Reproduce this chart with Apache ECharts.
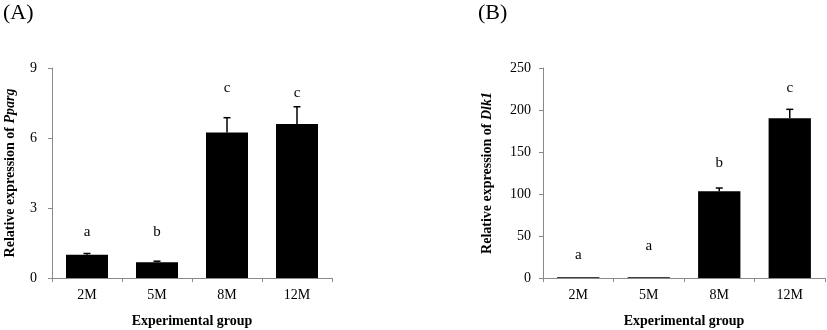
<!DOCTYPE html>
<html>
<head>
<meta charset="utf-8">
<script src="https://cdn.jsdelivr.net/npm/echarts@6/dist/echarts.min.js"></script>
<style>html,body{margin:0;padding:0;background:#fff}#c{width:827px;height:330px}</style>
</head>
<body>
<div id="c"></div>
<script>
const categories = ['2M', '5M', '8M', '12M'];
const ppargValues = [1.0, 0.67, 6.24, 6.6];
const ppargErrors = [0.05, 0.05, 0.63, 0.74];
const ppargLetters = ['a', 'b', 'c', 'c'];
const ppargLetterLevels = [1.97, 1.95, 8.14, 7.93];
const dlk1Values = [1.0, 1.0, 103.2, 190.1];
const dlk1Errors = [0, 0, 3.9, 10.7];
const dlk1Letters = ['a', 'a', 'b', 'c'];
const dlk1LetterLevels = [27.7, 38, 137, 226];
const ppargTicks = [0, 3, 6, 9];
const dlk1Ticks = [0, 50, 100, 150, 200, 250];

const FONT = '"Liberation Serif", "Times New Roman", serif';
const AXIS = '#8a8a8a';

function errRender(params, api) {
  const x = api.value(0), v = api.value(1), e = api.value(2);
  if (!e) return null;
  const p0 = api.coord([x, v]);
  const p1 = api.coord([x, v + e]);
  const style = { stroke: '#000', lineWidth: 1.5 };
  return {
    type: 'group',
    children: [
      { type: 'line', shape: { x1: p0[0], y1: p0[1], x2: p1[0], y2: p1[1] }, style },
      { type: 'line', shape: { x1: p1[0] - 3.5, y1: p1[1], x2: p1[0] + 3.5, y2: p1[1] }, style }
    ]
  };
}
function letterRender(params, api) {
  const p = api.coord([api.value(0), api.value(1)]);
  return {
    type: 'text',
    style: {
      text: api.value(2), x: p[0], y: p[1],
      align: 'center', verticalAlign: 'middle',
      font: '15px ' + FONT, fill: '#000'
    }
  };
}

function xAxis(gi) {
  return {
    type: 'category', gridIndex: gi, data: categories,
    axisLine: { lineStyle: { color: AXIS, width: 1 } },
    axisTick: { show: true, length: 4, lineStyle: { color: AXIS } },
    axisLabel: { color: '#000', fontFamily: FONT, fontSize: 14, margin: 10 },
    name: 'Experimental group', nameLocation: 'middle', nameGap: 36,
    nameTextStyle: { color: '#000', fontFamily: FONT, fontSize: 14, fontWeight: 'bold' }
  };
}
function yAxis(gi, ticks, gene, gap, margin) {
  return {
    type: 'value', gridIndex: gi,
    min: ticks[0], max: ticks[ticks.length - 1], interval: ticks[1] - ticks[0],
    splitLine: { show: false },
    axisLine: { show: true, lineStyle: { color: AXIS, width: 1 } },
    axisTick: { show: true, length: 4, lineStyle: { color: AXIS } },
    axisLabel: { color: '#000', fontFamily: FONT, fontSize: 14, margin: margin },
    name: 'Relative expression of {i|' + gene + '}', nameLocation: 'middle', nameRotate: 90, nameGap: gap,
    nameTextStyle: {
      color: '#000', fontFamily: FONT, fontSize: 14, fontWeight: 'bold',
      rich: { i: { fontFamily: FONT, fontSize: 14, fontWeight: 'bold', fontStyle: 'italic', color: '#000' } }
    }
  };
}

const chart = echarts.init(document.getElementById('c'));
chart.setOption({
  animation: false,
  title: [
    { text: '(A)', left: -2, top: -3, textStyle: { fontFamily: FONT, fontSize: 22, fontWeight: 'normal', color: '#000' } },
    { text: '(B)', left: 473, top: -3, textStyle: { fontFamily: FONT, fontSize: 22, fontWeight: 'normal', color: '#000' } }
  ],
  grid: [
    { left: 52, right: 495, top: 68, bottom: 52, containLabel: false, outerBoundsMode: 'none' },
    { left: 543, right: 2, top: 68, bottom: 52, containLabel: false, outerBoundsMode: 'none' }
  ],
  xAxis: [xAxis(0), xAxis(1)],
  yAxis: [yAxis(0, ppargTicks, 'Pparg', 35, 15), yAxis(1, dlk1Ticks, 'Dlk1', 49, 12)],
  series: [
    { type: 'bar', xAxisIndex: 0, yAxisIndex: 0, data: ppargValues, barWidth: '60%', itemStyle: { color: '#000' } },
    { type: 'custom', xAxisIndex: 0, yAxisIndex: 0, renderItem: errRender,
      data: categories.map((c, i) => [i, ppargValues[i], ppargErrors[i]]) },
    { type: 'custom', xAxisIndex: 0, yAxisIndex: 0, renderItem: letterRender,
      data: categories.map((c, i) => [i, ppargLetterLevels[i], ppargLetters[i]]) },
    { type: 'bar', xAxisIndex: 1, yAxisIndex: 1, data: dlk1Values, barWidth: '60%', itemStyle: { color: '#000' } },
    { type: 'custom', xAxisIndex: 1, yAxisIndex: 1, renderItem: errRender,
      data: categories.map((c, i) => [i, dlk1Values[i], dlk1Errors[i]]) },
    { type: 'custom', xAxisIndex: 1, yAxisIndex: 1, renderItem: letterRender,
      data: categories.map((c, i) => [i, dlk1LetterLevels[i], dlk1Letters[i]]) }
  ]
});
</script>
</body>
</html>
